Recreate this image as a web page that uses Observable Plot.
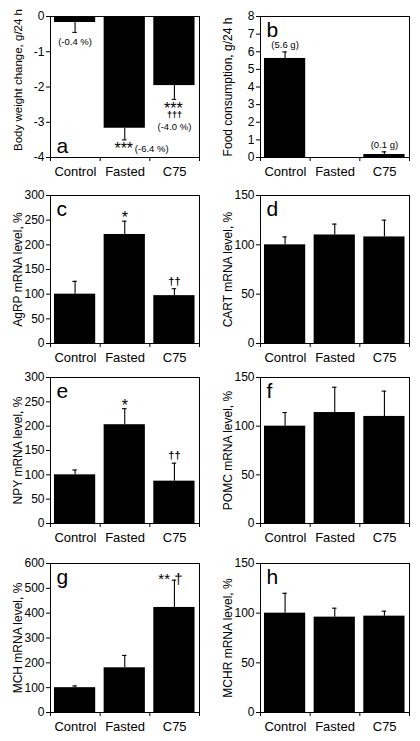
<!DOCTYPE html>
<html>
<head>
<meta charset="utf-8">
<script src="https://cdn.jsdelivr.net/npm/d3@7"></script>
<script src="https://cdn.jsdelivr.net/npm/@observablehq/plot@0.6"></script>
<style>
  body { margin: 0; background: #fff; }
  #fig { position: relative; width: 420px; height: 741px; background: #fff; font-family: "Liberation Sans", Arial, sans-serif; }
  .panel { position: absolute; }
</style>
</head>
<body>
<div id="fig"></div>
<script>
// ---- data ----
const categories = ["Control", "Fasted", "C75"];

const weightMean = [-0.17, -3.17, -1.96];
const weightSem  = [0.28, 0.33, 0.39];
const foodMean = [5.62, 0, 0.17];
const foodSem  = [0.37, 0, 0.15];
const agrpMean = [100, 221, 97];
const agrpSem  = [26, 27, 14];
const cartMean = [100, 110, 108];
const cartSem  = [8, 11, 17];
const npyMean = [100, 203, 87];
const npySem  = [10, 33, 37];
const pomcMean = [100, 114, 110];
const pomcSem  = [14, 26, 26];
const mchMean = [100, 180, 423];
const mchSem  = [7, 50, 110];
const mchrMean = [100, 96, 97];
const mchrSem  = [20, 9, 5];

const weightTicks = [-4, -3, -2, -1, 0];
const foodTicks = [0, 1, 2, 3, 4, 5, 6, 7, 8];
const pct300Ticks = [0, 50, 100, 150, 200, 250, 300];
const pct150Ticks = [0, 50, 100, 150];
const pct600Ticks = [0, 100, 200, 300, 400, 500, 600];

// annotations
const weightPctBelow = ["(-0.4 %)", "", ""];
const weightStars = ["", "***", "***"];
const weightDaggers = ["", "", "†††"];
const weightPctSide = ["", "(-6.4 %)", ""];
const weightPctStack = ["", "", "(-4.0 %)"];
const foodNotes = ["(5.6 g)", "", "(0.1 g)"];
const agrpStars = ["", "*", ""];
const agrpDaggers = ["", "", "††"];
const npyStars = ["", "*", ""];
const npyDaggers = ["", "", "††"];
const mchSig = ["", "", "** †"];

// ---- layout ----
const rows = [[16, 157], [195, 343], [377, 523], [563, 712]];
const MT = 14, MB = 30, W = 210;
const FONT = "'Liberation Sans', Arial, Helvetica, sans-serif";

function makeData(means, sems) {
  return categories.map((c, i) => {
    const s = means[i] < 0 ? -1 : 1;
    return {i, c, mean: means[i], sem: sems[i], end: means[i] + s * sems[i]};
  });
}

function notes(data, arr, opts) {
  return Plot.text(data.filter(d => arr[d.i]), {
    x: d => d.i + 0.495, y: "end", text: d => arr[d.i],
    fill: "#000", fontFamily: FONT, textAnchor: "middle", ...opts
  });
}

function panel({means, sems, domain, ticks, label, labelSize = 12, labelShift = 0, letter, letterBottom, row, col, extra}) {
  const [top, bottom] = rows[row];
  const data = makeData(means, sems);
  const bars = data.filter(d => d.mean !== 0);
  const errs = data.filter(d => d.sem > 0);
  const cap = 0.045;
  const marks = [
    Plot.rectY(bars, {x1: d => d.i + 0.08, x2: d => d.i + 0.91, y1: 0, y2: "mean", fill: "#000"}),
    Plot.ruleX(errs, {x: d => d.i + 0.495, y1: "mean", y2: "end", stroke: "#000", strokeWidth: 1.1}),
    Plot.ruleY(errs, {y: "end", x1: d => d.i + 0.495 - cap, x2: d => d.i + 0.495 + cap, stroke: "#000", strokeWidth: 1.1}),
    Plot.frame({stroke: "#000", strokeWidth: 1}),
    Plot.axisY({ticks, tickSize: 4, tickPadding: 2, tickFormat: d => String(d), label: null, fontSize: 12}),
    Plot.text([label], {frameAnchor: "left", rotate: -90, dx: -37, dy: labelShift, lineAnchor: "top",
      textAnchor: "middle", fontSize: labelSize, fill: "#000", fontFamily: FONT}),
    Plot.axisX({ticks: d3.range(categories.length + 1), tickSize: 4, tickFormat: () => "", label: null}),
    Plot.axisX({ticks: categories.map((c, i) => i + 0.5), tickSize: 0, tickPadding: 9,
      tickFormat: d => categories[Math.floor(d)], label: null, fontSize: 13}),
    Plot.text([letter], {frameAnchor: letterBottom ? "bottom-left" : "top-left", textAnchor: "start",
      lineAnchor: "bottom", dx: 6, dy: letterBottom ? -5 : 20, fontSize: 21, fill: "#000", fontFamily: FONT}),
    ...(extra ? extra(data) : [])
  ];
  const svg = Plot.plot({
    width: W, height: bottom - top + MT + MB,
    marginTop: MT, marginBottom: MB, marginLeft: 50, marginRight: 11,
    x: {type: "linear", domain: [0, categories.length]},
    y: {domain},
    style: {fontFamily: FONT, fontSize: "12px", color: "#000", background: "transparent", overflow: "visible"},
    marks
  });
  const div = document.createElement("div");
  div.className = "panel";
  div.style.left = (col * W) + "px";
  div.style.top = (top - MT) + "px";
  div.appendChild(svg);
  document.getElementById("fig").appendChild(div);
}

panel({means: weightMean, sems: weightSem, domain: [-4, 0], ticks: weightTicks,
  label: "Body weight change, g/24 h", labelSize: 11.5, labelShift: -7, letter: "a", letterBottom: true, row: 0, col: 0,
  extra: data => [
    notes(data, weightPctBelow, {lineAnchor: "middle", dy: 10, fontSize: 9.5}),
    notes(data, weightStars, {lineAnchor: "bottom", dy: 14.5, dx: -1, fontSize: 16}),
    notes(data, weightPctSide, {lineAnchor: "middle", dy: 9.5, dx: 27, fontSize: 9.5}),
    notes(data, weightDaggers, {lineAnchor: "bottom", dy: 19, fontSize: 9, fontWeight: "bold"}),
    notes(data, weightPctStack, {lineAnchor: "middle", dy: 28, fontSize: 9.5})
  ]});

panel({means: foodMean, sems: foodSem, domain: [0, 8], ticks: foodTicks,
  label: "Food consumption, g/24 h", letter: "b", row: 0, col: 1,
  extra: data => [notes(data, foodNotes, {lineAnchor: "bottom", dy: -4, fontSize: 9.5})]});

panel({means: agrpMean, sems: agrpSem, domain: [0, 300], ticks: pct300Ticks,
  label: "AgRP mRNA level, %", letter: "c", row: 1, col: 0,
  extra: data => [
    notes(data, agrpStars, {lineAnchor: "bottom", dy: 2, fontSize: 16}),
    notes(data, agrpDaggers, {lineAnchor: "bottom", dy: -4, fontSize: 11, fontWeight: "bold"})
  ]});

panel({means: cartMean, sems: cartSem, domain: [0, 150], ticks: pct150Ticks,
  label: "CART mRNA level, %", letter: "d", row: 1, col: 1});

panel({means: npyMean, sems: npySem, domain: [0, 300], ticks: pct300Ticks,
  label: "NPY mRNA level, %", letter: "e", row: 2, col: 0,
  extra: data => [
    notes(data, npyStars, {lineAnchor: "bottom", dy: 2, fontSize: 16}),
    notes(data, npyDaggers, {lineAnchor: "bottom", dy: -4, fontSize: 11, fontWeight: "bold"})
  ]});

panel({means: pomcMean, sems: pomcSem, domain: [0, 150], ticks: pct150Ticks,
  label: "POMC mRNA level, %", letter: "f", row: 2, col: 1});

panel({means: mchMean, sems: mchSem, domain: [0, 600], ticks: pct600Ticks,
  label: "MCH mRNA level, %", letter: "g", row: 3, col: 0,
  extra: data => [notes(data, mchSig, {lineAnchor: "bottom", dy: 4, dx: -4, fontSize: 15})]});

panel({means: mchrMean, sems: mchrSem, domain: [0, 150], ticks: pct150Ticks,
  label: "MCHR mRNA level, %", letter: "h", row: 3, col: 1});
</script>
</body>
</html>
